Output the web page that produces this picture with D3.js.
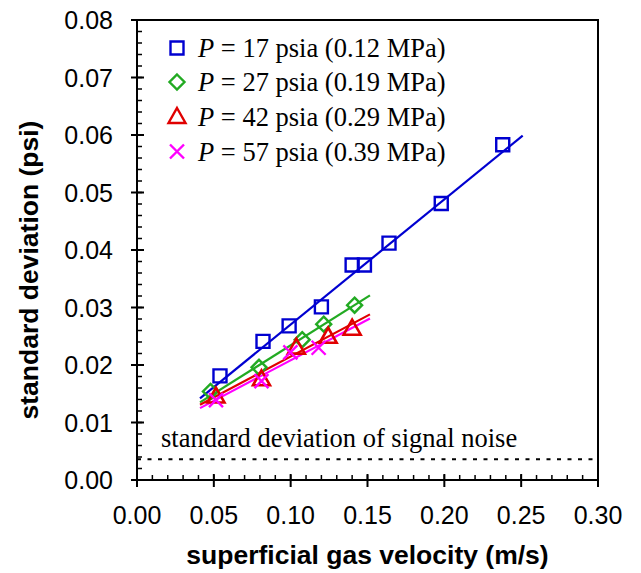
<!DOCTYPE html>
<html>
<head>
<meta charset="utf-8">
<script src="https://cdn.jsdelivr.net/npm/d3@7"></script>
<style>
  body { margin: 0; background: #fff; }
  .tick-label { font-family: "Liberation Sans", Arial, sans-serif; font-size: 25px; fill: #000; }
  .axis-title { font-family: "Liberation Sans", Arial, sans-serif; font-size: 26.5px; font-weight: bold; fill: #000; }
  .serif { font-family: "Liberation Serif", "Times New Roman", serif; font-size: 26.5px; fill: #000; }
</style>
</head>
<body>
<script>
var width = 641;
var height = 573;

const margin = {left: 137, top: 20, right: 43, bottom: 93}

// ---- data ----
const seriesNames = ["P = 17 psia (0.12 MPa)", "P = 27 psia (0.19 MPa)", "P = 42 psia (0.29 MPa)", "P = 57 psia (0.39 MPa)"];
const colors = ["#0000d0", "#22aa22", "#e00000", "#ff00ff"];

const x17 = [0.054, 0.082, 0.099, 0.120, 0.140, 0.148, 0.164, 0.198, 0.238];
const y17 = [0.0181, 0.0241, 0.0268, 0.0301, 0.0374, 0.0374, 0.0412, 0.0481, 0.0583];
const x27 = [0.0478, 0.0794, 0.1075, 0.1215, 0.1416];
const y27 = [0.0154, 0.0196, 0.0244, 0.0271, 0.0304];
const x42 = [0.0514, 0.0810, 0.1037, 0.1244, 0.1400];
const y42 = [0.0146, 0.0176, 0.0231, 0.0250, 0.0264];
const x57 = [0.0514, 0.0810, 0.0998, 0.1182];
const y57 = [0.0139, 0.0172, 0.0222, 0.0230];

// fitted lines, end points
const fit17 = [[0.041, 0.0142], [0.251, 0.0599]];
const fit27 = [[0.041, 0.0135], [0.1516, 0.0321]];
const fit42 = [[0.041, 0.0131], [0.1516, 0.0288]];
const fit57 = [[0.041, 0.0125], [0.1516, 0.0281]];

const noiseLevel = 0.0036;
const noiseLabel = "standard deviation of signal noise";

const xTicks = [0, 0.05, 0.10, 0.15, 0.20, 0.25, 0.30];
const yTicks = [0, 0.01, 0.02, 0.03, 0.04, 0.05, 0.06, 0.07, 0.08];

const xTitle = "superficial gas velocity (m/s)";
const yTitle = "standard deviation (psi)";

const series = [
  {name: seriesNames[0], xs: x17, ys: y17, fit: fit17, shape: "square"},
  {name: seriesNames[1], xs: x27, ys: y27, fit: fit27, shape: "diamond"},
  {name: seriesNames[2], xs: x42, ys: y42, fit: fit42, shape: "triangle"},
  {name: seriesNames[3], xs: x57, ys: y57, fit: fit57, shape: "cross"}
];

// marker shapes
function markerPath(shape) {
  if (shape == "square") return "M-6.5,-6.5H6.5V6.5H-6.5Z";
  if (shape == "diamond") return "M0,-7.5L7.5,0L0,7.5L-7.5,0Z";
  if (shape == "triangle") return "M0,-8.5L8.5,6.5L-8.5,6.5Z";
  return "M-7,-7L7,7M-7,7L7,-7";
}

var svg = d3.select("body").append("svg")
      .attr("width", width)
      .attr("height", height);

const x = d3.scaleLinear().domain([0, 0.30]).range([margin.left, width - margin.right]);
const y = d3.scaleLinear().domain([0, 0.08]).range([height - margin.bottom, margin.top]);

// **** frame *****************
svg.append("rect")
  .attr("x", x(0)).attr("y", y(0.08))
  .attr("width", x(0.30) - x(0)).attr("height", y(0) - y(0.08))
  .attr("fill", "none").attr("stroke", "#000").attr("stroke-width", 2);

// **** ticks *****************
const yMinor = d3.range(0, 0.0801, 0.002);
svg.selectAll(".ymin").data(yMinor).join("line")
  .attr("x1", x(0)).attr("x2", x(0) + 5)
  .attr("y1", d => y(d)).attr("y2", d => y(d))
  .attr("stroke", "#000").attr("stroke-width", 1.5);
svg.selectAll(".ymaj").data(yTicks).join("line")
  .attr("x1", x(0) - 6).attr("x2", x(0) + 7)
  .attr("y1", d => y(d)).attr("y2", d => y(d))
  .attr("stroke", "#000").attr("stroke-width", 2);
svg.selectAll(".ylab").data(yTicks).join("text")
  .attr("class", "tick-label")
  .attr("x", x(0) - 24).attr("y", d => y(d) + 9)
  .attr("text-anchor", "end")
  .text(d => d3.format(".2f")(d));

const xMinor = d3.range(0, 0.3001, 0.01);
svg.selectAll(".xmin").data(xMinor).join("line")
  .attr("x1", d => x(d)).attr("x2", d => x(d))
  .attr("y1", y(0)).attr("y2", y(0) - 5)
  .attr("stroke", "#000").attr("stroke-width", 1.5);
svg.selectAll(".xmaj").data(xTicks).join("line")
  .attr("x1", d => x(d)).attr("x2", d => x(d))
  .attr("y1", y(0) + 7).attr("y2", y(0) - 6)
  .attr("stroke", "#000").attr("stroke-width", 2);
svg.selectAll(".xlab").data(xTicks).join("text")
  .attr("class", "tick-label")
  .attr("x", d => x(d)).attr("y", y(0) + 44)
  .attr("text-anchor", "middle")
  .text(d => d3.format(".2f")(d));

// **** axis titles *****************
svg.append("text").attr("class", "axis-title")
  .attr("x", (x(0) + x(0.30)) / 2).attr("y", 564)
  .attr("text-anchor", "middle")
  .text(xTitle);
svg.append("text").attr("class", "axis-title")
  .attr("transform", "translate(38,270) rotate(-90)")
  .attr("text-anchor", "middle")
  .text(yTitle);

// **** noise line *****************
svg.append("line")
  .attr("x1", x(0)).attr("x2", x(0.30))
  .attr("y1", y(noiseLevel)).attr("y2", y(noiseLevel))
  .attr("stroke", "#000").attr("stroke-width", 2)
  .attr("stroke-dasharray", "4,6.5");
svg.append("text").attr("class", "serif")
  .attr("x", 161).attr("y", 447)
  .text(noiseLabel);

// **** series *****************
const line = d3.line().x(d => x(d[0])).y(d => y(d[1]));

series.forEach(function(s, i) {
  svg.append("path")
    .attr("d", line(s.fit))
    .attr("fill", "none").attr("stroke", colors[i]).attr("stroke-width", 2.2);
});

series.forEach(function(s, i) {
  const pts = s.xs.map((v, j) => [v, s.ys[j]]);
  svg.selectAll(".m" + i).data(pts).join("path")
    .attr("transform", d => "translate(" + x(d[0]) + "," + y(d[1]) + ")")
    .attr("d", markerPath(s.shape))
    .attr("fill", "none")
    .attr("stroke", colors[i]).attr("stroke-width", s.shape == "triangle" ? 2.6 : 2.4);
});

// **** legend *****************
const legendRows = [48, 82, 116.5, 151.5];
const legend = svg.selectAll(".legend").data(series).join("g")
  .attr("transform", (d, i) => "translate(177," + legendRows[i] + ")");
legend.append("path")
  .attr("d", d => markerPath(d.shape))
  .attr("fill", "none")
  .attr("stroke", (d, i) => colors[i]).attr("stroke-width", 2.4);
const lt = legend.append("text").attr("class", "serif")
  .attr("x", 21).attr("y", 9);
lt.append("tspan").attr("font-style", "italic").text(d => d.name.slice(0, 1));
lt.append("tspan").text(d => d.name.slice(1));
</script>
</body>
</html>
